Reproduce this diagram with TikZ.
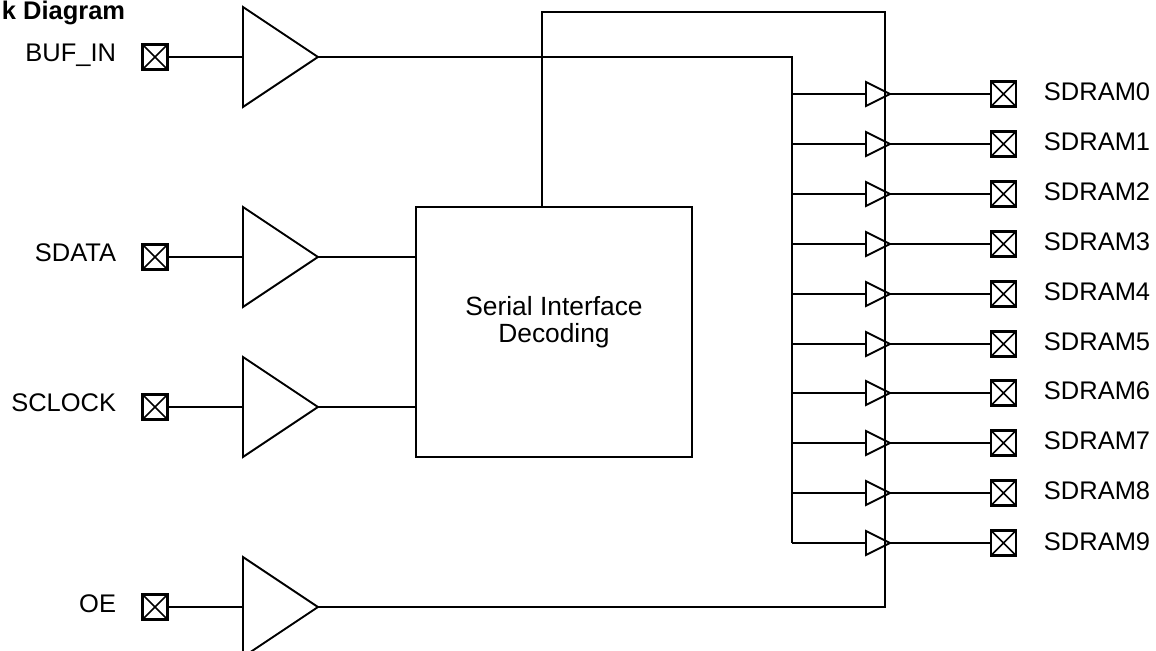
\documentclass[tikz,border=0pt]{standalone}
\usepackage{fontspec}
\setmainfont{Liberation Sans}
\usetikzlibrary{shapes.geometric}

\begin{document}
\begin{tikzpicture}[x=0.02cm, y=-0.02cm, line width=1.1pt]
    \tikzstyle{big buffer} = [isosceles triangle, isosceles triangle stretches, draw, inner sep=0pt, outer sep=0pt, minimum width=2cm, minimum height=1.5cm, anchor=west]
    \tikzstyle{small buffer} = [isosceles triangle, isosceles triangle stretches, draw, inner sep=0pt, outer sep=0pt, minimum width=0.48cm, minimum height=0.48cm, anchor=west]
    \tikzstyle{pin} = [draw, rectangle, inner sep=0pt, outer sep=0pt, minimum size=0.5cm, line width=1.3pt,
        path picture={\draw[line width=0.9pt] (path picture bounding box.north west) -- (path picture bounding box.south east)
            (path picture bounding box.south west) -- (path picture bounding box.north east);}]
    \tikzstyle{pin label} = [inner sep=0pt, font=\fontsize{14.5}{17}\selectfont]
\useasboundingbox (0,0) rectangle (1156,651);
\node[pin label, anchor=base west, font=\fontsize{14.5}{17}\selectfont\bfseries] (title) at (1,20) {k Diagram};
% inputs
\node[pin] (pin bufin) at (155,57) {};
\node[pin] (pin sdata) at (155,257) {};
\node[pin] (pin sclock) at (155,407) {};
\node[pin] (pin oe) at (155,607) {};
\node[pin label, anchor=base east] (lbl bufin) at (117,62) {BUF\_IN};
\node[pin label, anchor=base east] (lbl sdata) at (117,262) {SDATA};
\node[pin label, anchor=base east] (lbl sclock) at (117,412) {SCLOCK};
\node[pin label, anchor=base east] (lbl oe) at (117,612) {OE};
\node[big buffer] (buf bufin) at (243,57) {};
\node[big buffer] (buf sdata) at (243,257) {};
\node[big buffer] (buf sclock) at (243,407) {};
\node[big buffer] (buf oe) at (243,607) {};
\node[draw, minimum width=5.52cm, minimum height=5cm] (sid) at (554,332) {};
\node[align=center, inner sep=0pt, font=\fontsize{15}{15.5}\selectfont] (sid text) at (554,322) {Serial Interface\\Decoding};
% outputs
\node[small buffer] (drv0) at (866,94) {};
\node[small buffer] (drv1) at (866,144) {};
\node[small buffer] (drv2) at (866,194) {};
\node[small buffer] (drv3) at (866,244) {};
\node[small buffer] (drv4) at (866,294) {};
\node[small buffer] (drv5) at (866,344) {};
\node[small buffer] (drv6) at (866,393) {};
\node[small buffer] (drv7) at (866,443) {};
\node[small buffer] (drv8) at (866,493) {};
\node[small buffer] (drv9) at (866,543) {};
\node[pin] (out0) at (1003.5,94) {};
\node[pin] (out1) at (1003.5,144) {};
\node[pin] (out2) at (1003.5,194) {};
\node[pin] (out3) at (1003.5,244) {};
\node[pin] (out4) at (1003.5,294) {};
\node[pin] (out5) at (1003.5,344) {};
\node[pin] (out6) at (1003.5,393) {};
\node[pin] (out7) at (1003.5,443) {};
\node[pin] (out8) at (1003.5,493) {};
\node[pin] (out9) at (1003.5,543) {};
\node[pin label, anchor=base west] (lbl0) at (1043,101) {SDRAM0};
\node[pin label, anchor=base west] (lbl1) at (1043,151) {SDRAM1};
\node[pin label, anchor=base west] (lbl2) at (1043,201) {SDRAM2};
\node[pin label, anchor=base west] (lbl3) at (1043,251) {SDRAM3};
\node[pin label, anchor=base west] (lbl4) at (1043,301) {SDRAM4};
\node[pin label, anchor=base west] (lbl5) at (1043,351) {SDRAM5};
\node[pin label, anchor=base west] (lbl6) at (1043,400) {SDRAM6};
\node[pin label, anchor=base west] (lbl7) at (1043,450) {SDRAM7};
\node[pin label, anchor=base west] (lbl8) at (1043,500) {SDRAM8};
\node[pin label, anchor=base west] (lbl9) at (1043,550) {SDRAM9};
\coordinate (bus top) at (792,57);
\coordinate (bus bot) at (792,543);
\coordinate (en top) at (542,12);
\coordinate (en corner) at (885,12);
% wires
\draw (pin bufin) -- (buf bufin.west);
\draw (pin sdata) -- (buf sdata.west);
\draw (pin sclock) -- (buf sclock.west);
\draw (pin oe) -- (buf oe.west);
\draw (buf sdata.east) -- (buf sdata.east -| sid.west);
\draw (buf sclock.east) -- (buf sclock.east -| sid.west);
\draw (buf bufin.east) -- (bus top) -- (bus bot);
\draw (buf oe.east) -| (en corner) -- (en top) -- (sid.north -| en top);
\draw (drv0.west -| bus top) -- (drv0.west);
\draw (drv1.west -| bus top) -- (drv1.west);
\draw (drv2.west -| bus top) -- (drv2.west);
\draw (drv3.west -| bus top) -- (drv3.west);
\draw (drv4.west -| bus top) -- (drv4.west);
\draw (drv5.west -| bus top) -- (drv5.west);
\draw (drv6.west -| bus top) -- (drv6.west);
\draw (drv7.west -| bus top) -- (drv7.west);
\draw (drv8.west -| bus top) -- (drv8.west);
\draw (drv9.west -| bus top) -- (drv9.west);
\draw (drv0.east) -- (out0);
\draw (drv1.east) -- (out1);
\draw (drv2.east) -- (out2);
\draw (drv3.east) -- (out3);
\draw (drv4.east) -- (out4);
\draw (drv5.east) -- (out5);
\draw (drv6.east) -- (out6);
\draw (drv7.east) -- (out7);
\draw (drv8.east) -- (out8);
\draw (drv9.east) -- (out9);
\end{tikzpicture}
\end{document}
